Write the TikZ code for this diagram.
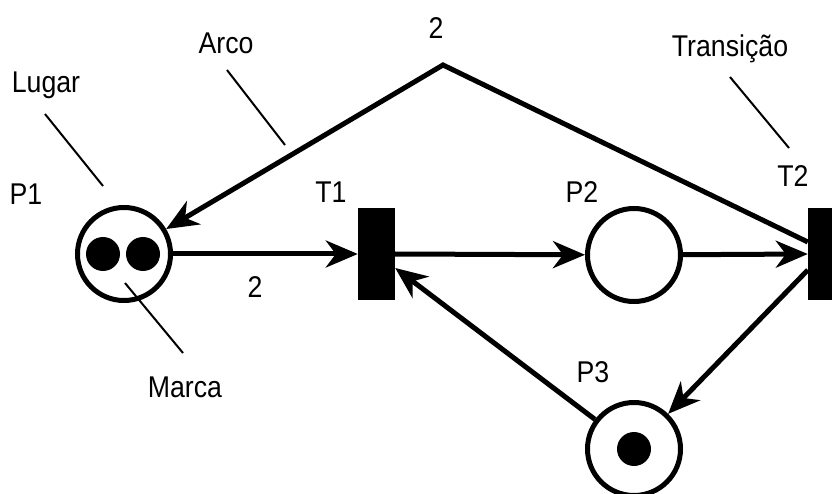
\documentclass[tikz,border=0pt]{standalone}
\usepackage{fontspec}
\setmainfont[FakeStretch=0.89]{Liberation Sans}
\usetikzlibrary{arrows.meta}
\begin{document}
\begin{tikzpicture}[x=1pt,y=-1pt,
  place/.style={circle,draw,line width=5pt,minimum size=93pt,inner sep=0pt},
  token/.style={circle,fill=black,minimum size=34pt,inner sep=0pt},
  trans/.style={rectangle,fill=black,minimum width=37pt,minimum height=92pt,inner sep=0pt},
  arc/.style={line width=5pt,-{Stealth[length=32pt,width=27pt,inset=10pt]}},
  pointer/.style={line width=2pt},
  lbl/.style={font=\fontsize{30}{36}\selectfont,anchor=base,inner sep=0pt}]
\useasboundingbox (0,0) rectangle (832,494);
\clip (0,0) rectangle (832,494);

% places and transitions
\node[place] (p1) at (124,254) {};
\node[token] (m1) at (103,254) {};
\node[token] (m2) at (143,254) {};
\node[trans] (t1) at (376.5,254) {};
\node[place] (p2) at (634,255) {};
\node[trans] (t2) at (826.5,254) {};
\node[place] (p3) at (634,449) {};
\node[token] (m3) at (634,449) {};
\coordinate (apex) at (443,65);

% arcs
\draw[arc] (p1) -- (t1.west);
\draw[arc] (t1.east) -- (p2);
\draw[arc] (p2) -- (t2.west);
\draw[arc] ([yshift=12pt]t2.west) -- (apex) -- (p1);
\draw[arc] ([yshift=-16pt]t2.west) -- (p3);
\draw[arc] (p3) -- ([yshift=-14pt]t1.east);

% labels
\node[lbl] (lp1) at (26,205) {P1};
\node[lbl] (lt1) at (331,203) {T1};
\node[lbl] (lp2) at (582,203) {P2};
\node[lbl] (lt2) at (793,187) {T2};
\node[lbl] (lp3) at (593,382) {P3};
\node[lbl] (w1) at (255,298) {2};
\node[lbl] (w2) at (436,39) {2};

% annotations
\node[lbl] (lugar) at (46,93) {Lugar};
\node[lbl] (arco) at (226,54) {Arco};
\node[lbl] (transicao) at (730,57) {Transição};
\node[lbl] (marca) at (185,397) {Marca};
\coordinate (lugarA) at (45,114);
\coordinate (lugarB) at (103,186);
\coordinate (arcoA) at (227,70);
\coordinate (arcoB) at (285,145);
\coordinate (transA) at (730,77);
\coordinate (transB) at (789,148);
\coordinate (marcaA) at (125,283);
\coordinate (marcaB) at (183,353);
\draw[pointer] (lugarA) -- (lugarB);
\draw[pointer] (arcoA) -- (arcoB);
\draw[pointer] (transA) -- (transB);
\draw[pointer] (marcaA) -- (marcaB);
\end{tikzpicture}
\end{document}
